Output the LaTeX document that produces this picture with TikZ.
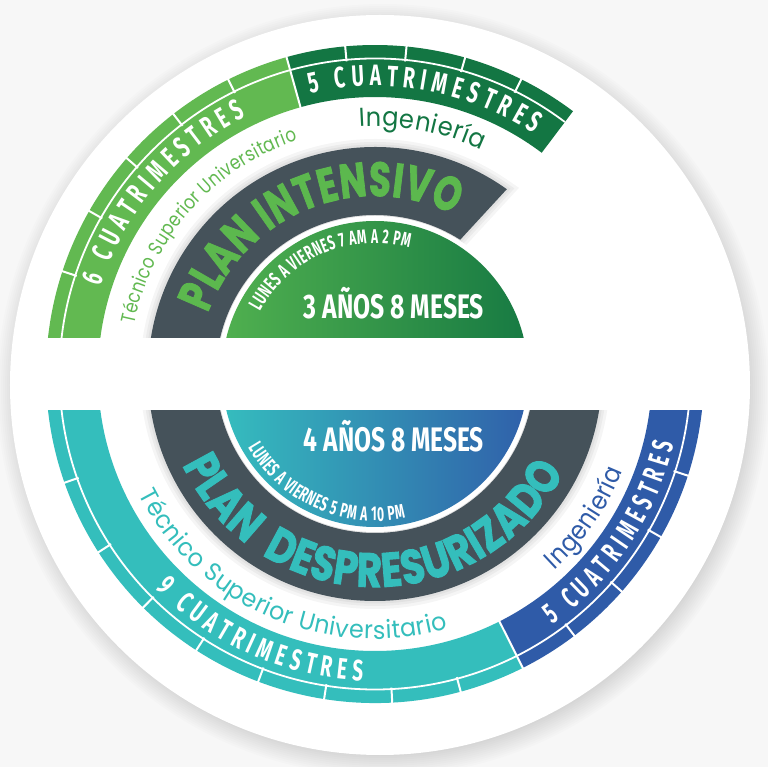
\documentclass[tikz,border=0pt]{standalone}
\usepackage{fontspec}
\usepackage{graphicx}
\newfontfamily\cond[FakeStretch=0.66]{Fira Sans}
\newfontfamily\geo{Poppins}
\newfontfamily\geoh[FakeBold=2]{Poppins}
\definecolor{bgc}{HTML}{F7F7F7}
\definecolor{lgreen}{HTML}{62B951}
\definecolor{dgreen}{HTML}{137643}
\definecolor{slate}{HTML}{45525A}
\definecolor{tealc}{HTML}{34BEBC}
\definecolor{bluec}{HTML}{2F5BA8}
\definecolor{gdl}{HTML}{50B04F}
\definecolor{gdr}{HTML}{177A43}
\definecolor{plang}{HTML}{5CB84E}
\definecolor{dl}{HTML}{35BDBE}
\definecolor{dr}{HTML}{3060AA}
\newcommand\fCua{\cond\bfseries\fontsize{29.5}{32}\selectfont}
\newcommand\fLun{\cond\bfseries\fontsize{20}{23}\selectfont}
\newcommand\fBig{\cond\bfseries\fontsize{34}{40}\selectfont}
\newcommand\fTec{\geo\fontsize{20}{23}\selectfont}
\newcommand\fTecB{\geo\fontsize{25}{29}\selectfont}
\newcommand\fIng{\geo\fontsize{26}{30}\selectfont}
\newcommand\fPlan{\geoh\bfseries\fontsize{48}{54}\selectfont}
\newcommand\sect[4]{(#1:#3) arc[start angle=#1, end angle=#2, radius=#3] -- (#2:#4) arc[start angle=#2, end angle=#1, radius=#4] -- cycle}
\newsavebox\ATbox
\newdimen\ATdim
\makeatletter
\newcommand\ATmeasure[2]{% #1 font, #2 char -> \ATraw (pt, no unit)
  \sbox\ATbox{\pgfinterruptpicture\normalfont#1#2\endpgfinterruptpicture}%
  \ATdim=\wd\ATbox
  \edef\ATraw{\strip@pt\ATdim}%
}
\makeatother
% #1 baseline radius, #2 start angle, #3 end angle, #4 font, #5 node options,
% #6 name prefix, #7 letter spacing (pt), #8 letters
\newcommand\arctext[8]{%
  \gdef\ATw{0}\gdef\ATn{0}%
  \foreach \ch in {#8}{%
    \ATmeasure{#4}{\ch}%
    \pgfmathsetmacro\ATt{\ATw+\ATraw}%
    \global\let\ATw\ATt
    \pgfmathtruncatemacro\ATm{\ATn+1}%
    \global\let\ATn\ATm
  }%
  \pgfmathsetmacro\ATL{abs((#3)-(#2))*pi/180*(#1)}%
  \pgfmathsetmacro\ATs{(\ATL-(#7)*(\ATn-1))/max(\ATw,1)}%
  \pgfmathsetmacro\ATdir{sign((#3)-(#2))}%
  \gdef\ATacc{0}%
  \foreach \ch [count=\i] in {#8}{%
    \ATmeasure{#4}{\ch}%
    \pgfmathsetmacro\ATcw{\ATraw*\ATs}%
    \pgfmathsetmacro\ATang{(#2)+(\ATdir)*(\ATacc+\ATcw/2)/(#1)*180/pi}%
    \pgfmathsetmacro\ATrot{\ATang+(\ATdir)*90}%
    \node[inner sep=0pt, outer sep=0pt, anchor=base, rotate=\ATrot, #5] (#6\i) at (\ATang:#1) {\scalebox{\ATs}[1]{#4\ch}};
    \pgfmathsetmacro\ATa{\ATacc+\ATcw+(#7)}%
    \global\let\ATacc\ATa
  }%
}
\tikzset{
  tick/.style={white, line width=2pt},
  ringline/.style={white, line width=1.8pt},
  shadowline/.style={black, opacity=0.04}
}
\begin{document}
\begin{tikzpicture}[x=1pt,y=1pt]
\useasboundingbox (-375,-393) rectangle (393,374);
\fill[bgc] (-375,-393) rectangle (393,374);
% big circle with soft shadow
\foreach \k in {1,...,12}{\fill[black,opacity=0.012] (8,-16) circle[radius=362+\k*2];}
\fill[white] (5,-11) circle[radius=370];

% ---------- top half ----------
\begin{scope}
\clip (-360,36) rectangle (360,360);
\fill[lgreen] \sect{105.6}{180}{277}{329};
\fill[dgreen] \sect{53}{105.6}{277}{329};
\draw[ringline] (53:315.5) arc[start angle=53, end angle=180, radius=315.5];
\foreach \a in {63.6,74.1,84.5,95.2,116.5,127.8,139,150.3,161.8}
  \draw[tick] (\a:314) -- (\a:331);
\draw[tick] (105.6:275) -- (105.6:331);
\foreach \w in {16,10,5}
  \draw[shadowline, line width=\w pt] (54.5:227) arc[start angle=54.5, end angle=180, radius=227] -- (180:159) arc[start angle=180, end angle=57.6, radius=159] -- cycle;
\fill[slate] (54.5:227) arc[start angle=54.5, end angle=180, radius=227] -- (180:159) arc[start angle=180, end angle=57.6, radius=159] -- cycle;
\fill[white] (0:158) arc[start angle=0, end angle=180, radius=158] -- cycle;
\shade[left color=gdl, right color=gdr] (0:153) arc[start angle=0, end angle=180, radius=153] -- cycle;
\end{scope}

% ---------- bottom half ----------
\begin{scope}
\clip (-360,-37) rectangle (360,-380);
\fill[tealc] \sect{180}{296.7}{277}{329};
\fill[bluec] \sect{296.7}{360}{277}{329};
\draw[ringline] (180:315.5) arc[start angle=180, end angle=360, radius=315.5];
\foreach \a in {-160.7,-147.2,-134.8,-122.9,-110.8,-98.9,-87,-74.9,-52.7,-41.4,-29.7,-18}
  \draw[tick] (\a:314) -- (\a:331);
\draw[tick] (-63.3:275) -- (-63.3:331);
\foreach \w in {16,10,5}
  \draw[shadowline, line width=\w pt] \sect{180}{360}{159}{227};
\fill[slate] \sect{180}{360}{159}{227};
\fill[white] (180:158) arc[start angle=180, end angle=360, radius=158] -- cycle;
\shade[left color=dl, right color=dr] (180:153) arc[start angle=180, end angle=360, radius=153] -- cycle;
\end{scope}

% ---------- top texts ----------
\arctext{288}{162.3}{116.6}{\fCua}{text=white}{a}{5.5}{6,\ ,C,U,A,T,R,I,M,E,S,T,R,E,S}
\arctext{288}{103}{56.5}{\fCua}{text=white}{b}{5.5}{5,\ ,C,U,A,T,R,I,M,E,S,T,R,E,S}
\arctext{246}{168.3}{108.3}{\fTec}{text=lgreen}{c}{0.4}{T,é,c,n,i,c,o,\ ,S,u,p,e,r,i,o,r,\ ,U,n,i,v,e,r,s,i,t,a,r,i,o}
\arctext{248}{93.6}{64.6}{\fIng}{text=dgreen}{d}{0.6}{I,n,g,e,n,i,e,r,í,a}
\arctext{178}{160}{63.6}{\fPlan}{text=plang}{e}{0.8}{P,L,A,N,\ ,I,N,T,E,N,S,I,V,O}
\arctext{131}{151.4}{74.8}{\fLun}{text=white}{f}{0.6}{L,U,N,E,S,\ ,A,\ ,V,I,E,R,N,E,S,\ ,7,\ ,A,M,\ ,A,\ ,2,\ ,P,M}
\node[anchor=base, inner sep=0pt, text=white] (y3) at (19,55) {\resizebox{180pt}{\height}{\fBig 3 AÑOS 8 MESES}};

% ---------- bottom texts ----------
\arctext{307}{-135.6}{-92.3}{\fCua}{text=white}{g}{5.5}{9,\ ,C,U,A,T,R,I,M,E,S,T,R,E,S}
\arctext{307}{-54.7}{-13.1}{\fCua}{text=white}{h}{5.5}{5,\ ,C,U,A,T,R,I,M,E,S,T,R,E,S}
\arctext{265}{-153}{-74}{\fTecB}{text=tealc}{i}{0.5}{T,é,c,n,i,c,o,\ ,S,u,p,e,r,i,o,r,\ ,U,n,i,v,e,r,s,i,t,a,r,i,o}
\arctext{266}{-47.5}{-21.5}{\fIng}{text=bluec}{j}{0.6}{I,n,g,e,n,i,e,r,í,a}
\arctext{213}{-154.7}{-27.4}{\fPlan}{text=tealc}{k}{0.8}{P,L,A,N,\ ,\ ,D,E,S,P,R,E,S,U,R,I,Z,A,D,O}
\arctext{147}{-149.8}{-78}{\fLun}{text=white}{l}{0.6}{L,U,N,E,S,\ ,A,\ ,V,I,E,R,N,E,S,\ ,5,\ ,P,M,\ ,A,\ ,1,0,\ ,P,M}
\node[anchor=base, inner sep=0pt, text=white] (y4) at (19,-78) {\resizebox{180pt}{\height}{\fBig 4 AÑOS 8 MESES}};
\end{tikzpicture}
\end{document}
